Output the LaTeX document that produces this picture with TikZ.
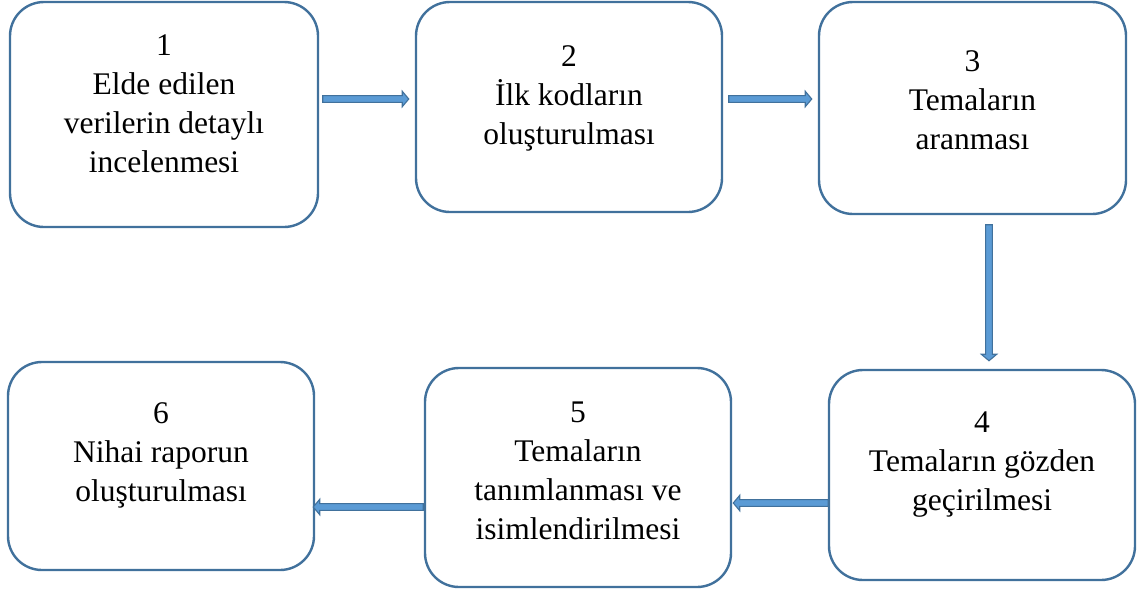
\documentclass[tikz,border=0pt]{standalone}
\usepackage{fontspec}
\setmainfont{Liberation Serif}
\usetikzlibrary{shapes.arrows,calc}
\definecolor{boxline}{HTML}{41719C}
\definecolor{arrfill}{HTML}{5B9BD5}
\definecolor{arrline}{HTML}{41719C}
\begin{document}
\begin{tikzpicture}[x=1pt,y=-1pt,
  stepbox/.style={draw=boxline,line width=2.4pt,rounded corners=34pt,fill=white,inner sep=0pt},
  steptext/.style={align=center,font=\fontsize{31.5pt}{39pt}\selectfont,inner sep=0pt},
  flowarrow/.style={single arrow,draw=arrline,fill=arrfill,line width=1.1pt,
    inner sep=2.8pt,single arrow head extend=4.4pt,single arrow tip angle=100,
    minimum height=#1,anchor=tail}]
\useasboundingbox (0,0) rectangle (1137,592);
% boxes
\node[stepbox,minimum width=308pt,minimum height=225pt] (b1) at (164,114.5) {};
\node[stepbox,minimum width=306pt,minimum height=210pt] (b2) at (569,107) {};
\node[stepbox,minimum width=307pt,minimum height=212pt] (b3) at (972.5,108) {};
\node[stepbox,minimum width=306pt,minimum height=210pt] (b4) at (982,475) {};
\node[stepbox,minimum width=306pt,minimum height=219pt] (b5) at (578,477.5) {};
\node[stepbox,minimum width=306pt,minimum height=208pt] (b6) at (161,466) {};
% texts
\node[steptext] (t1) at (164,104) {1\\Elde edilen\\verilerin detaylı\\incelenmesi};
\node[steptext] (t2) at (569,98) {2\\İlk kodların\\oluşturulması};
\node[steptext] (t3) at (972.5,100) {3\\Temaların\\aranması};
\node[steptext] (t4) at (982,465) {4\\Temaların gözden\\geçirilmesi};
\node[steptext] (t5) at (578,471) {5\\Temaların\\tanımlanması ve\\isimlendirilmesi};
\node[steptext] (t6) at (161,455) {6\\Nihai raporun\\oluşturulması};
% connectors
\coordinate (a12) at ($(b1.east)+(3,-15.5)$);
\node[flowarrow=86pt] (r12) at (a12) {};
\coordinate (a23) at ($(b2.east)+(5,-8)$);
\node[flowarrow=83pt] (r23) at (a23) {};
\coordinate (a34) at ($(b3.south)+(16.5,9)$);
\node[flowarrow=136pt,rotate=-90] (r34) at (a34) {};
\coordinate (a45) at ($(b4.west)+(1,28)$);
\node[flowarrow=95pt,rotate=180] (r45) at (a45) {};
\coordinate (a56) at ($(b5.west)+(0,29.5)$);
\node[flowarrow=110pt,rotate=180] (r56) at (a56) {};
\end{tikzpicture}
\end{document}
